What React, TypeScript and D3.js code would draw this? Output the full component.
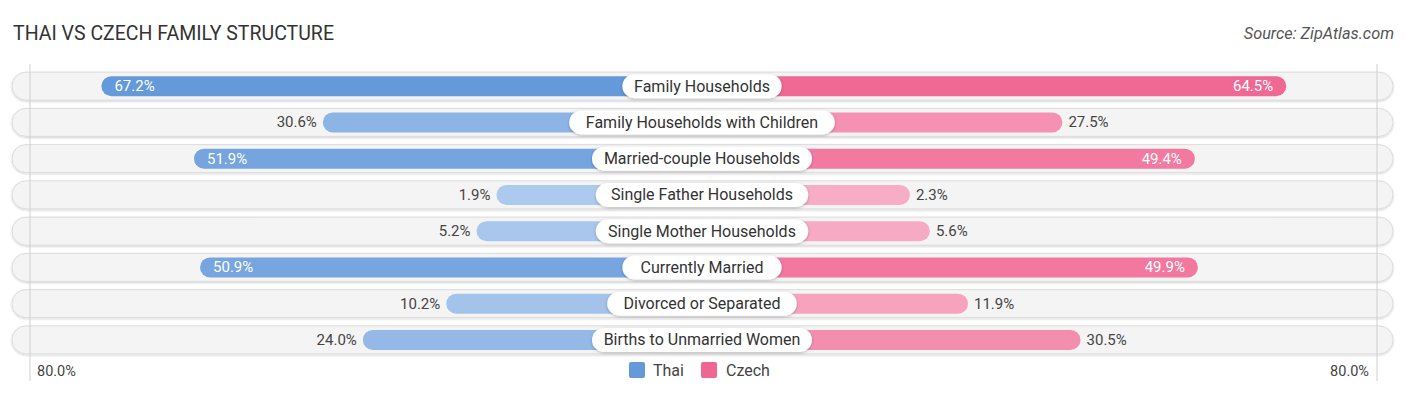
import React from "react";
import * as d3 from "d3";

const categories = [
  "Family Households",
  "Family Households with Children",
  "Married-couple Households",
  "Single Father Households",
  "Single Mother Households",
  "Currently Married",
  "Divorced or Separated",
  "Births to Unmarried Women",
];
const thai = [67.2, 30.6, 51.9, 1.9, 5.2, 50.9, 10.2, 24.0];
const czech = [64.5, 27.5, 49.4, 2.3, 5.6, 49.9, 11.9, 30.5];
const seriesNames = ["Thai", "Czech"];
const axisLabel = "80.0%";

const W = 1406;
const H = 395;
const CX = 702;
const FONT = "Roboto, 'Noto Sans', Arial, sans-serif";

export default function App() {
  const len = d3.scaleLinear().domain([0, 80]).range([194, 194 + 80 * 6.05]);
  const y = d3
    .scaleBand()
    .domain(categories)
    .range([68, 358])
    .paddingInner(0)
    .paddingOuter(0);
  const maxV = 67.2;
  const blue = d3.scaleLinear<string>().domain([0, maxV]).range(["#aecbee", "#6499da"]).interpolate(d3.interpolateRgb);
  const pink = d3.scaleLinear<string>().domain([0, maxV]).range(["#f8b0c8", "#f06592"]).interpolate(d3.interpolateRgb);
  const fmt = (v: number) => v.toFixed(1) + "%";
  const barH = 20;
  const trackH = 28;

  return (
    <svg width={W} height={H} style={{ display: "block", position: "absolute", left: 0, top: 0 }} fontFamily={FONT}>
      <defs>
        <filter id="sh" x="-5%" y="-30%" width="110%" height="160%">
          <feDropShadow dx="0" dy="1" stdDeviation="1.2" floodColor="#000" floodOpacity="0.18" />
        </filter>
        <filter id="sh2" x="-10%" y="-40%" width="120%" height="180%">
          <feDropShadow dx="0" dy="1" stdDeviation="1.5" floodColor="#000" floodOpacity="0.25" />
        </filter>
      </defs>
      <text x={13} y={40} fontSize={19.5} fill="#333">THAI VS CZECH FAMILY STRUCTURE</text>
      <text x={1394} y={39} fontSize={16.3} fill="#555" fontStyle="italic" textAnchor="end">Source: ZipAtlas.com</text>

      {categories.map((c, i) => {
        const cy = (y(c) as number) + y.bandwidth() / 2;
        return (
          <rect key={"t" + i} x={12} y={cy - trackH / 2} width={1381} height={trackH} rx={trackH / 2}
            fill="#f4f4f4" stroke="#dcdcdc" strokeWidth={1} filter="url(#sh)" />
        );
      })}

      <line x1={30} x2={30} y1={64} y2={381} stroke="#cfcfcf" strokeWidth={1} />
      <line x1={1377} x2={1377} y1={64} y2={381} stroke="#cfcfcf" strokeWidth={1} />

      {categories.map((c, i) => {
        const cy = (y(c) as number) + y.bandwidth() / 2;
        const tl = len(thai[i]);
        const cl = len(czech[i]);
        const tInside = thai[i] > 40;
        const cInside = czech[i] > 40;
        const labelW = c.length * 7.6 + 30;
        return (
          <g key={"r" + i}>
            <rect x={CX - tl} y={cy - barH / 2} width={tl} height={barH} rx={barH / 2} fill={blue(thai[i])} />
            <rect x={CX} y={cy - barH / 2} width={cl} height={barH} rx={barH / 2} fill={pink(czech[i])} />
            <text x={tInside ? CX - tl + 13 : CX - tl - 6} y={cy + 5} fontSize={15} textAnchor={tInside ? "start" : "end"}
              fill={tInside ? "#fff" : "#444"}>{fmt(thai[i])}</text>
            <text x={cInside ? CX + cl - 13 : CX + cl + 6} y={cy + 5} fontSize={15} textAnchor={cInside ? "end" : "start"}
              fill={cInside ? "#fff" : "#444"}>{fmt(czech[i])}</text>
            <rect x={CX - labelW / 2} y={cy - 12} width={labelW} height={24} rx={12} fill="#fff" filter="url(#sh2)" />
            <text x={CX} y={cy + 5.5} fontSize={16} textAnchor="middle" fill="#333">{c}</text>
          </g>
        );
      })}

      <text x={37} y={376} fontSize={14.5} fill="#444">{axisLabel}</text>
      <text x={1369} y={376} fontSize={14.5} fill="#444" textAnchor="end">{axisLabel}</text>

      <rect x={629} y={362} width={16} height={16} rx={2} fill="#6499da" />
      <text x={653} y={376} fontSize={16} fill="#444">{seriesNames[0]}</text>
      <rect x={701} y={362} width={16} height={16} rx={2} fill="#f06592" />
      <text x={726} y={376} fontSize={16} fill="#444">{seriesNames[1]}</text>
    </svg>
  );
}
